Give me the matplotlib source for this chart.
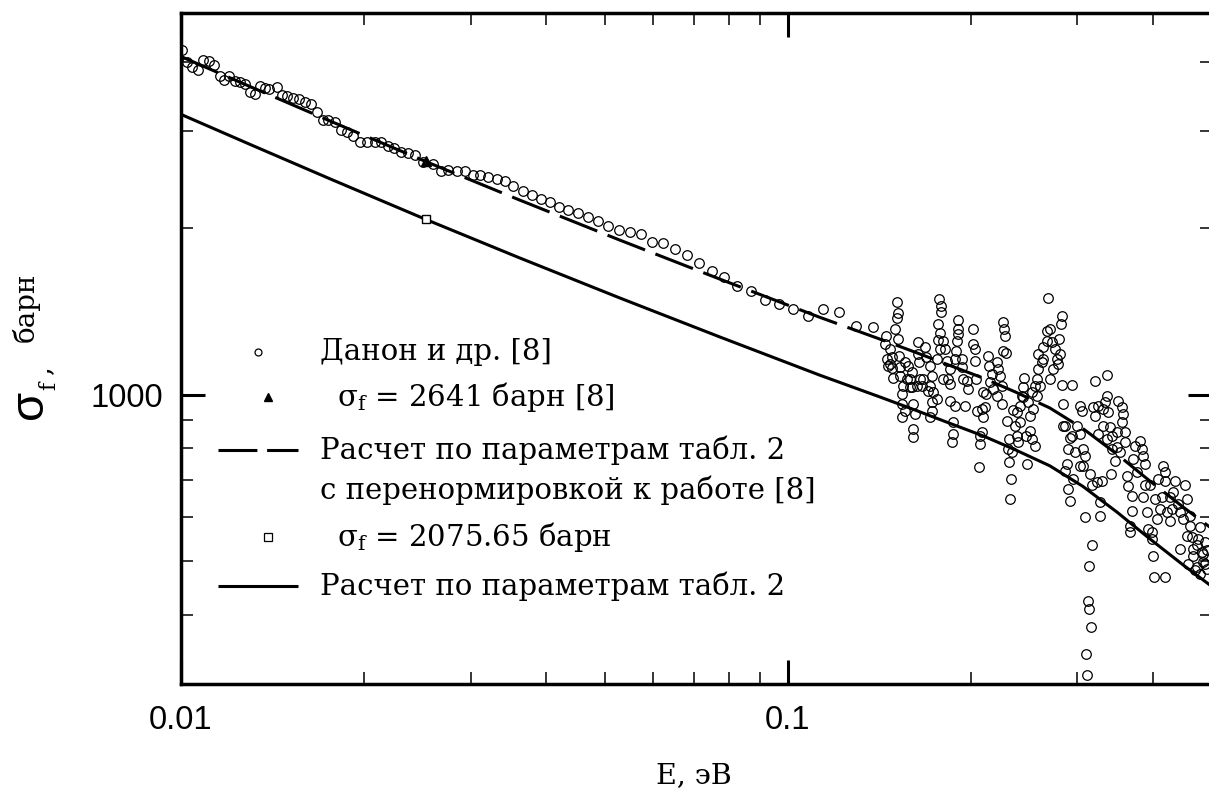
import matplotlib
matplotlib.use("Agg")
import matplotlib.pyplot as plt
from matplotlib.ticker import LogLocator, NullFormatter

# Danon et al. [8], thermal region: energy (eV) and fission cross-section (barn)
thermal_E = [0.01004, 0.01023, 0.01043, 0.01067, 0.01087, 0.01112, 0.01133, 0.01159,
             0.01177, 0.0120, 0.01227, 0.01251, 0.01275, 0.01299, 0.01324, 0.0135,
             0.01375, 0.01396, 0.01439, 0.01467, 0.01495, 0.0153, 0.01565, 0.01601,
             0.01638, 0.01675, 0.01714, 0.01747, 0.01793, 0.01834, 0.01876, 0.0192,
             0.01971, 0.02025, 0.02087, 0.02135, 0.02193, 0.02244, 0.02304, 0.02366,
             0.02429, 0.02504, 0.02601, 0.02681, 0.02754, 0.02849, 0.02937, 0.03028,
             0.03109, 0.03205, 0.03316, 0.03418, 0.03524, 0.0366, 0.03787, 0.03919,
             0.04055, 0.04195, 0.04342, 0.04509, 0.04684, 0.04864, 0.05051, 0.05268,
             0.05493, 0.05727, 0.05971, 0.06224, 0.06514, 0.06817, 0.07134, 0.07496,
             0.07846, 0.08241, 0.0869, 0.09165, 0.09665, 0.1019, 0.1079, 0.1142,
             0.1214, 0.1294, 0.138]
thermal_sigma = [4206, 4002, 3919, 3870, 4035, 4018, 3951, 3774,
                 3712, 3774, 3697, 3681, 3651, 3530, 3501, 3620,
                 3590, 3575, 3605, 3487, 3472, 3443, 3429, 3386,
                 3358, 3248, 3142, 3142, 3116, 3015, 2990, 2940,
                 2868, 2868, 2868, 2868, 2820, 2797, 2751, 2740,
                 2717, 2639, 2617, 2542, 2552, 2542, 2542, 2500,
                 2500, 2479, 2458, 2438, 2388, 2339, 2300, 2262,
                 2234, 2189, 2161, 2134, 2099, 2064, 2021, 1988,
                 1971, 1955, 1891, 1884, 1837, 1792, 1733, 1676,
                 1634, 1575, 1542, 1486, 1461, 1431, 1389, 1431,
                 1413, 1333, 1327]

# Danon et al. [8], resonance region: (energy eV, cross-section barn)
resonance_points = [
    (0.1512, 1473), (0.1518, 1407), (0.1512, 1378), (0.1501, 1316), (0.1518, 1263),
    (0.1450, 1279), (0.1445, 1236), (0.1472, 1211), (0.1484, 1172), (0.1461, 1128),
    (0.1484, 1119), (0.1490, 1073), (0.1529, 1082), (0.1523, 1176), (0.1547, 1038),
    (0.1541, 1004), (0.1541, 963), (0.1559, 935), (0.1541, 913), (0.1607, 868),
    (0.1607, 840), (0.1577, 1128), (0.1601, 1100), (0.1589, 1069), (0.1589, 1034),
    (0.1607, 963), (0.1619, 924), (0.1638, 1247), (0.1638, 1186), (0.1644, 1148),
    (0.1650, 1069), (0.1663, 1038), (0.1682, 1221), (0.1688, 1172), (0.1714, 1128),
    (0.1727, 1082), (0.1714, 1038), (0.1727, 971), (0.1727, 935), (0.1714, 913),
    (0.1773, 1492), (0.1787, 1449), (0.1787, 1413), (0.1767, 1344), (0.1780, 1294),
    (0.1767, 1257), (0.1800, 1252), (0.1814, 1211), (0.1780, 1211), (0.1760, 1162),
    (0.1828, 1152), (0.1835, 1069), (0.1849, 1047), (0.1849, 975), (0.1884, 955),
    (0.1870, 894), (0.1870, 850), (0.1863, 822), (0.1906, 1366), (0.1906, 1316),
    (0.1906, 1289), (0.1898, 1252), (0.1891, 1201), (0.1935, 1162), (0.1935, 1124),
    (0.1942, 1069), (0.1957, 955), (0.2017, 1316), (0.2017, 1236), (0.2033, 1211),
    (0.2033, 1152), (0.2041, 1069), (0.2049, 935), (0.2088, 943), (0.2095, 913),
    (0.2072, 843), (0.2072, 815), (0.2064, 741), (0.2088, 857), (0.2111, 951),
    (0.2119, 1004), (0.2135, 1176), (0.2143, 1128), (0.2168, 1091), (0.2210, 1148),
    (0.2218, 1114), (0.2235, 1082), (0.2252, 1038), (0.2261, 1355), (0.2269, 1316),
    (0.2278, 1279), (0.2261, 1201), (0.2287, 1191), (0.2295, 897), (0.2312, 833),
    (0.2304, 799), (0.2339, 789), (0.2312, 756), (0.2330, 705), (0.2321, 648),
    (0.2348, 939), (0.2366, 879), (0.2384, 843), (0.2393, 822), (0.2411, 955),
    (0.2439, 992), (0.2439, 1034), (0.2448, 1073), (0.2466, 843), (0.2504, 861),
    (0.2523, 833), (0.2552, 809), (0.2476, 750), (0.2504, 916), (0.2523, 1013),
    (0.2552, 1038), (0.2572, 1069), (0.2581, 1114), (0.2621, 1148), (0.2631, 1162),
    (0.2581, 1186), (0.2631, 1221), (0.2671, 1252), (0.2671, 1305), (0.2702, 1316),
    (0.2723, 1247), (0.2754, 1211), (0.2775, 1162), (0.2785, 1138), (0.2796, 1263),
    (0.2817, 1344), (0.2828, 1389), (0.2806, 1186), (0.2681, 1498), (0.2828, 1043),
    (0.2838, 963), (0.2937, 1043), (0.2860, 879), (0.2915, 836), (0.2893, 799),
    (0.2882, 750), (0.2860, 729), (0.2893, 676), (0.2915, 643), (0.2994, 879),
    (0.3028, 850), (0.3028, 955), (0.3051, 935), (0.3063, 799), (0.3086, 776),
    (0.3028, 744), (0.2949, 705), (0.3086, 602), (0.3169, 534), (0.3133, 491),
    (0.3121, 423), (0.3133, 410), (0.3157, 380), (0.3098, 340), (0.3110, 312),
    (0.3205, 1060), (0.3355, 1087), (0.3181, 951), (0.3205, 916), (0.3242, 850),
    (0.3304, 943), (0.3329, 971), (0.3355, 996), (0.3367, 931), (0.3393, 875),
    (0.3419, 843), (0.3419, 799), (0.3484, 806), (0.3458, 760), (0.3406, 720),
    (0.3291, 699), (0.3229, 696), (0.3169, 687), (0.3266, 640), (0.3266, 604),
    (0.3497, 975), (0.3551, 951), (0.3564, 924), (0.3551, 894), (0.3591, 857),
    (0.3591, 822), (0.3619, 714), (0.3632, 684), (0.3688, 657), (0.3688, 617),
    (0.3660, 580), (0.3660, 565), (0.3730, 809), (0.3802, 826), (0.3831, 799),
    (0.3845, 776), (0.3874, 750), (0.3874, 687), (0.3845, 654), (0.3904, 614),
    (0.3919, 572), (0.3979, 549), (0.3994, 512), (0.4009, 469), (0.3979, 565),
    (0.4055, 597), (0.4102, 622), (0.4133, 654), (0.4149, 744), (0.4180, 726),
    (0.4180, 699), (0.4260, 654), (0.4293, 622), (0.4260, 592), (0.4342, 699),
    (0.4392, 635), (0.4425, 614), (0.4425, 527), (0.4509, 687), (0.4544, 648),
    (0.4596, 604), (0.4596, 580), (0.4631, 553), (0.4649, 527), (0.4649, 512),
    (0.4684, 483), (0.4720, 489), (0.4737, 549), (0.4773, 577), (0.4809, 520),
    (0.4827, 516), (0.4864, 542), (0.4901, 523), (0.4561, 495), (0.4864, 495),
    (0.4773, 475), (0.4180, 469),
    (0.1456, 1162), (0.1472, 1138), (0.1529, 1124), (0.1559, 1148), (0.1571, 1069),
    (0.1601, 1034), (0.1631, 1038), (0.1669, 1069), (0.1701, 1017), (0.1734, 1013),
    (0.1760, 984), (0.1800, 1069), (0.1849, 1114), (0.1884, 1162), (0.1972, 1060),
    (0.1979, 1025), (0.2095, 1013), (0.2151, 1055), (0.2176, 1025), (0.2210, 996),
    (0.2252, 963), (0.2384, 931), (0.2411, 894), (0.2429, 996), (0.2485, 971),
    (0.2533, 943), (0.2572, 996), (0.2601, 1038), (0.2702, 1069), (0.2733, 1114),
    (0.2838, 879), (0.2937, 843), (0.2971, 789), (0.3063, 744), (0.3145, 720),
    (0.3242, 955), (0.3304, 879), (0.3355, 833), (0.3484, 857), (0.3524, 789),
    (0.3702, 766), (0.3759, 726), (0.3949, 687), (0.4024, 648), (0.4071, 705),
    (0.4212, 614), (0.4309, 668), (0.4475, 597), (0.4544, 556), (0.4720, 534),
    (0.4827, 499), (0.4901, 485),
]

# Calculation with the parameters of table 2
calc_E = [0.01, 0.01299, 0.0176, 0.0253, 0.03618, 0.05288, 0.07727, 0.1129,
          0.1265, 0.1418, 0.1631, 0.1849, 0.2096, 0.2366, 0.2702, 0.3063,
          0.3484, 0.3949, 0.4475, 0.50]
calc_sigma = [3213, 2836, 2457, 2075.65, 1767, 1496, 1272, 1085,
              1037, 991, 936, 888, 843, 796, 744, 683,
              614, 549, 493, 450]

# Thermal-point values (E = 0.0253 eV)
E_thermal = 0.0253
sigma_ref8 = 2641.0
sigma_calc = 2075.65
renorm = sigma_ref8 / sigma_calc
calc_renorm_sigma = [s * renorm for s in calc_sigma]

danon_E = thermal_E + [p[0] for p in resonance_points]
danon_sigma = thermal_sigma + [p[1] for p in resonance_points]

plt.rcParams['lines.scale_dashes'] = False
plt.rcParams['mathtext.fontset'] = 'custom'
plt.rcParams['mathtext.rm'] = 'DejaVu Serif'
plt.rcParams['mathtext.it'] = 'DejaVu Serif:italic'

SERIF = 'DejaVu Serif'
SANS = 'Liberation Sans'
W, H = 1209, 792

fig = plt.figure(figsize=(W / 100, H / 100), dpi=100)
ax = fig.add_axes([181 / W, 108 / H, 1031 / W, 671 / H])
ax.set_xscale('log')
ax.set_yscale('log')
ax.set_xlim(0.01, 0.5)
ax.set_ylim(300, 4900)

DASH = (29, 8)
LW = 2.2

ax.plot(calc_E, calc_sigma, color='black', lw=LW, solid_capstyle='butt',
        solid_joinstyle='round', zorder=2)
ax.plot(calc_E, calc_renorm_sigma, color='black', lw=LW, dashes=DASH,
        dash_capstyle='butt', zorder=2)
ax.plot(danon_E, danon_sigma, ls='none', marker='o', ms=6.9, mfc='none',
        mec='black', mew=0.9, zorder=3)
ax.plot([E_thermal], [sigma_ref8], ls='none', marker='^', ms=6.5,
        color='black', zorder=4)
ax.plot([E_thermal], [sigma_calc], ls='none', marker='s', ms=6.0, mfc='white',
        mec='black', mew=1.0, zorder=4)

# axes frame and ticks
for sp in ax.spines.values():
    sp.set_linewidth(2.5)
ax.set_xticks([0.01, 0.1])
ax.set_xticklabels(['0.01', '0.1'])
ax.xaxis.set_minor_locator(LogLocator(base=10, subs=range(2, 10)))
ax.xaxis.set_minor_formatter(NullFormatter())
ax.set_yticks([1000])
ax.set_yticklabels(['1000'])
ax.yaxis.set_minor_locator(LogLocator(base=10, subs=range(2, 10)))
ax.yaxis.set_minor_formatter(NullFormatter())
ax.tick_params(which='both', direction='in', top=True, right=True)
ax.tick_params(which='major', length=17, width=2.2)
ax.tick_params(which='minor', length=8.5, width=1.1)
ax.tick_params(axis='x', which='major', pad=15)
ax.tick_params(axis='y', which='major', pad=13)
for lab in ax.get_xticklabels() + ax.get_yticklabels():
    lab.set_fontfamily(SANS)
    lab.set_fontsize(23.5)

# legend drawn in axes coordinates
tr = ax.transAxes
LFS = 21
ax.plot([0.0747], [0.4948], transform=tr, marker='o', ms=5.0, mfc='none',
        mec='black', mew=0.9, ls='none', clip_on=False)
ax.text(0.1348, 0.4948, 'Данон и др. [8]', transform=tr, family=SERIF,
        fontsize=LFS, va='center', ha='left')
ax.plot([0.0844], [0.4277], transform=tr, marker='^', ms=6.0, color='black',
        ls='none', clip_on=False)
ax.text(0.1513, 0.4277, r'$\mathrm{\sigma_f}$ = 2641 барн [8]', transform=tr,
        family=SERIF, fontsize=LFS, va='center', ha='left')
ax.plot([0.0359, 0.1135], [0.3487, 0.3487], transform=tr, color='black', lw=LW,
        dashes=(28, 7), dash_capstyle='butt', clip_on=False)
ax.text(0.1348, 0.3487, 'Расчет по параметрам табл. 2', transform=tr,
        family=SERIF, fontsize=LFS, va='center', ha='left')
ax.text(0.1348, 0.2891, 'с перенормировкой к работе [8]', transform=tr,
        family=SERIF, fontsize=LFS, va='center', ha='left')
ax.plot([0.0844], [0.2191], transform=tr, marker='s', ms=5.5, mfc='white',
        mec='black', mew=0.9, ls='none', clip_on=False)
ax.text(0.1513, 0.2191, r'$\mathrm{\sigma_f}$ = 2075.65 барн', transform=tr,
        family=SERIF, fontsize=LFS, va='center', ha='left')
ax.plot([0.0359, 0.1135], [0.1461, 0.1461], transform=tr, color='black', lw=LW,
        solid_capstyle='butt', clip_on=False)
ax.text(0.1348, 0.1461, 'Расчет по параметрам табл. 2', transform=tr,
        family=SERIF, fontsize=LFS, va='center', ha='left')

# axis titles
fig.text(694 / W, 1 - 776 / H, 'E, эВ', family=SERIF, fontsize=20.5,
         ha='center', va='center')
fig.text(30 / W, 1 - 404 / H, 'σ', family=SANS, fontsize=34, rotation=90,
         ha='center', va='center')
fig.text(49 / W, 1 - 386 / H, 'f', family=SERIF, fontsize=16, rotation=90,
         ha='center', va='center')
fig.text(42 / W, 1 - 370 / H, ',', family=SERIF, fontsize=20, rotation=90,
         ha='center', va='center')
fig.text(26 / W, 1 - 307 / H, 'барн', family=SERIF, fontsize=20, rotation=90,
         ha='center', va='center')

fig.savefig('out.png', dpi=100)
